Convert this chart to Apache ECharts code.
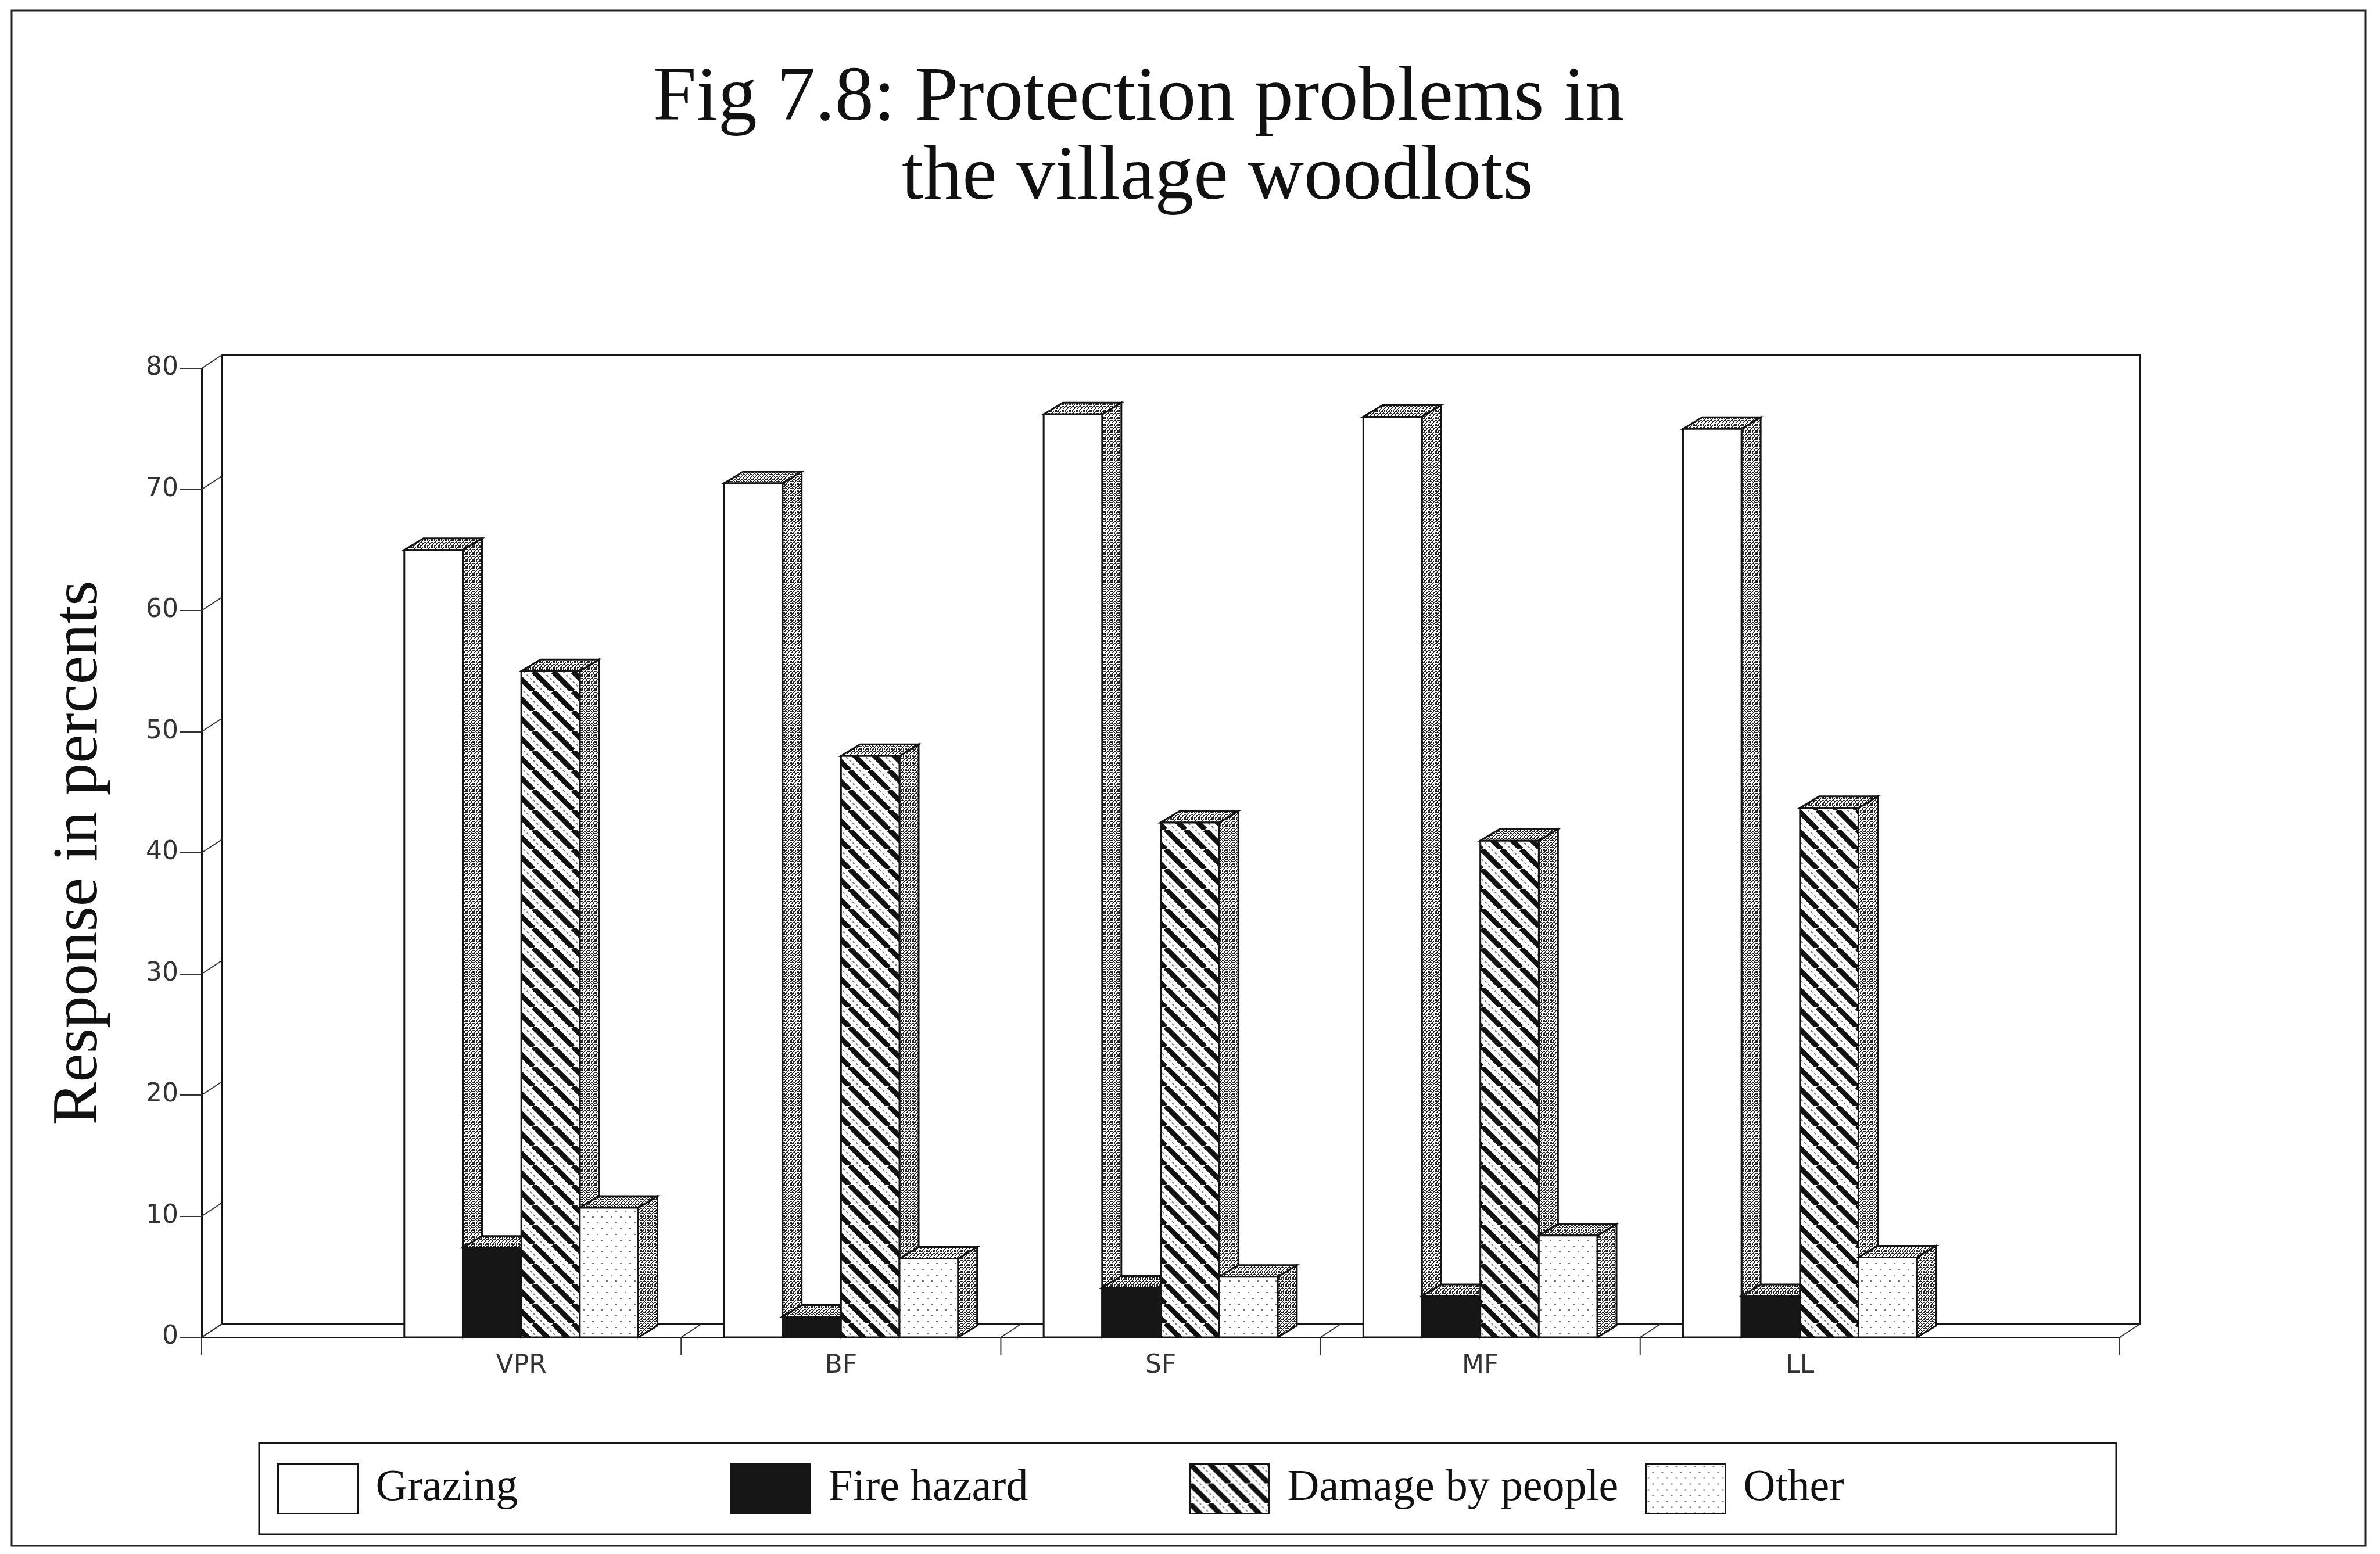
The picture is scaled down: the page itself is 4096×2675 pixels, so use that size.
<!DOCTYPE html>
<html>
<head>
<meta charset="utf-8">
<script src="https://cdn.jsdelivr.net/npm/echarts@6/dist/echarts.min.js"></script>
<style>
  html, body { margin: 0; padding: 0; background: #ffffff; }
  #chart { width: 4096px; height: 2675px; }
</style>
</head>
<body>
<div id="chart"></div>
<script>
// Survey responses: protection problems reported for each woodlot type (percent)
const categories = ['VPR', 'BF', 'SF', 'MF', 'LL'];
const seriesNames = ['Grazing', 'Fire hazard', 'Damage by people', 'Other'];
const grazing = [65, 70.5, 76.2, 76, 75];
const fireHazard = [7.4, 1.7, 4.1, 3.4, 3.4];
const damageByPeople = [55, 48, 42.5, 41, 43.7];
const other = [10.7, 6.5, 5, 8.4, 6.6];
const yTicks = [0, 10, 20, 30, 40, 50, 60, 70, 80];
// category slots sit at 1..5 on a 0..6 axis; floor ticks fall between groups
const xTickPositions = [0, 1.5, 2.5, 3.5, 4.5, 6];

const INK = '#141414';
const SERIF = '"Liberation Serif", "DejaVu Serif", serif';
const SANS = '"DejaVu Sans", "Liberation Sans", sans-serif';

// ---- fill patterns ----
function makePattern(w, h, draw) {
  const c = document.createElement('canvas');
  c.width = w; c.height = h;
  const g = c.getContext('2d');
  g.fillStyle = '#ffffff';
  g.fillRect(0, 0, w, h);
  draw(g, w, h);
  return { image: c, repeat: 'repeat' };
}
// speckled grey used on the top and side faces of every bar
const stipple = makePattern(6, 6, (g) => {
  g.fillStyle = '#262626';
  g.fillRect(0, 0, 2, 2);
  g.fillRect(3, 0, 2, 1);
  g.fillRect(3, 3, 2, 2);
  g.fillRect(0, 3, 1, 2);
  g.fillRect(1, 5, 2, 1);
  g.fillRect(5, 2, 1, 2);
});
const hatch = makePattern(34, 34, (g, w, h) => {
  g.strokeStyle = '#111';
  g.lineWidth = 9;
  for (let k = -1; k <= 1; k++) {
    g.beginPath(); g.moveTo(k * w, 0); g.lineTo(k * w + w, h); g.stroke();
  }
  g.strokeStyle = '#777';
  g.lineWidth = 2;
  g.setLineDash([4, 4]);
  for (let k = -1; k <= 1; k++) {
    g.beginPath(); g.moveTo(k * w + w / 2, 0); g.lineTo(k * w + w / 2 + w, h); g.stroke();
  }
});
const dots = makePattern(16, 20, (g) => {
  g.fillStyle = '#777';
  g.fillRect(3, 4, 3, 2);
  g.fillRect(11, 14, 3, 2);
});
const fireFill = '#161616';
const frontFills = ['#ffffff', fireFill, hatch, dots];

// ---- 3D bar drawing ----
const BAR_FRAC = 0.183;      // bar width as a share of one category slot
const BAR_DEPTH = [33, -20]; // oblique depth of each bar
const WALL_DEPTH = [35, -23];
const outline = { stroke: INK, lineWidth: 3, lineJoin: 'miter' };

function barRenderer(slot, frontFill) {
  return function (params, api) {
    const x = api.value(0);
    const v = api.value(1);
    const base = api.coord([x, 0]);
    const top = api.coord([x, v]);
    const w = api.size([1, 0])[0] * BAR_FRAC;
    const left = base[0] + (slot - 2) * w;
    const right = left + w;
    const dx = BAR_DEPTH[0], dy = BAR_DEPTH[1];
    return {
      type: 'group',
      children: [
        { type: 'polygon',
          shape: { points: [[right, top[1]], [right + dx, top[1] + dy], [right + dx, base[1] + dy], [right, base[1]]] },
          style: Object.assign({ fill: stipple }, outline) },
        { type: 'polygon',
          shape: { points: [[left, top[1]], [left + dx, top[1] + dy], [right + dx, top[1] + dy], [right, top[1]]] },
          style: Object.assign({ fill: stipple }, outline) },
        { type: 'rect',
          shape: { x: left, y: top[1], width: w, height: base[1] - top[1] },
          style: Object.assign({ fill: frontFill }, outline) }
      ]
    };
  };
}

// back wall, side-wall tick lines and floor ticks
function renderFrame(params, api) {
  const dx = WALL_DEPTH[0], dy = WALL_DEPTH[1];
  const o = api.coord([0, 0]);
  const tr = api.coord([6, 80]);
  const ln = { stroke: INK, lineWidth: 3 };
  const thin = { stroke: '#333', lineWidth: 2 };
  const children = [
    { type: 'rect',
      shape: { x: o[0] + dx, y: tr[1] + dy, width: tr[0] - o[0], height: o[1] - tr[1] },
      style: Object.assign({ fill: 'none' }, ln) }
  ];
  yTicks.forEach((v) => {
    const p = api.coord([0, v]);
    children.push({ type: 'line', shape: { x1: p[0], y1: p[1], x2: p[0] + dx, y2: p[1] + dy }, style: thin });
  });
  xTickPositions.forEach((x) => {
    const p = api.coord([x, 0]);
    children.push({ type: 'line', shape: { x1: p[0] + dx, y1: p[1] + dy, x2: p[0], y2: p[1] }, style: thin });
    children.push({ type: 'line', shape: { x1: p[0], y1: p[1], x2: p[0], y2: p[1] + 31 }, style: thin });
  });
  return { type: 'group', children };
}

const values = [grazing, fireHazard, damageByPeople, other];
const barSeries = seriesNames.map((name, i) => ({
  name,
  type: 'custom',
  z: 3 + i,
  renderItem: barRenderer(i, frontFills[i]),
  itemStyle: { color: frontFills[i], borderColor: INK, borderWidth: 3 },
  encode: { x: 0, y: 1 },
  data: values[i].map((v, k) => [k + 1, v])
}));

const legendX = [477, 1256, 2046, 2831];
const legends = seriesNames.map((name, i) => ({
  data: [{ name, icon: 'rect', itemStyle: { color: frontFills[i], borderColor: INK, borderWidth: 3 } }],
  left: legendX[i],
  top: 2518,
  padding: 0,
  itemWidth: 137,
  itemHeight: 86,
  selectedMode: false,
  textStyle: { fontFamily: SERIF, fontSize: 76, color: '#111', padding: [0, 0, 0, 26] }
}));

const chart = echarts.init(document.getElementById('chart'), null, { renderer: 'canvas' });
chart.setOption({
  backgroundColor: '#ffffff',
  animation: false,
  title: [
    { text: 'Fig 7.8: Protection problems in', left: 1124, top: 104, padding: 0,
      textStyle: { fontFamily: SERIF, fontSize: 134, fontWeight: 'normal', color: '#111' } },
    { text: 'the village woodlots', left: 1552, top: 240, padding: 0,
      textStyle: { fontFamily: SERIF, fontSize: 134, fontWeight: 'normal', color: '#111' } }
  ],
  legend: legends,
  grid: { left: 347, top: 634, width: 3301, height: 1668, containLabel: false },
  xAxis: {
    type: 'value', min: 0, max: 6, interval: 1,
    axisLine: { show: true, lineStyle: { color: INK, width: 3 } },
    axisTick: { show: false },
    splitLine: { show: false },
    axisLabel: {
      margin: 28, fontFamily: SANS, fontSize: 44, color: '#333',
      formatter: (v) => categories[v - 1] || ''
    }
  },
  yAxis: {
    type: 'value', min: 0, max: 80, interval: 10,
    name: 'Response in percents', nameLocation: 'middle', nameGap: 155, nameRotate: 90,
    nameTextStyle: { fontFamily: SERIF, fontSize: 111, color: '#111' },
    axisLine: { show: true, lineStyle: { color: INK, width: 3 } },
    axisTick: { show: true, length: 38, lineStyle: { color: '#333', width: 2 } },
    splitLine: { show: false },
    axisLabel: { margin: 40, fontFamily: SANS, fontSize: 44, color: '#333' }
  },
  graphic: [
    { type: 'rect', silent: true, z: -10,
      shape: { x: 20, y: 18, width: 4051, height: 2643 },
      style: { fill: 'none', stroke: '#222', lineWidth: 3 } },
    { type: 'rect', silent: true,
      shape: { x: 446, y: 2484, width: 3196, height: 157 },
      style: { fill: 'none', stroke: INK, lineWidth: 3 } }
  ],
  series: [
    { name: 'frame', type: 'custom', z: 1, silent: true, renderItem: renderFrame,
      encode: { x: 0, y: 1 }, data: [[0, 0]] }
  ].concat(barSeries)
});
</script>
</body>
</html>
